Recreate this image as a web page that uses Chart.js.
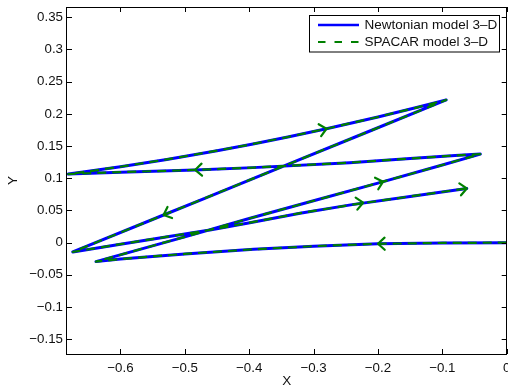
<!DOCTYPE html>
<html><head><meta charset="utf-8">
<script src="https://cdn.jsdelivr.net/npm/chart.js@4"></script>
<style>html,body{margin:0;padding:0;background:#fff;}canvas{display:block;}</style>
</head><body>
<canvas id="c" width="508" height="389"></canvas>
<script>
// ---- data ----
const newtonianX = [0.000,-0.100,-0.200,-0.300,-0.393,-0.500,-0.600,-0.638,
  -0.500,-0.400,-0.300,-0.200,-0.100,-0.041,
  -0.080,-0.150,-0.244,-0.394,-0.484,-0.600,-0.658,-0.681,
  -0.658,-0.600,-0.528,-0.450,-0.394,-0.340,-0.280,-0.200,-0.140,-0.094,
  -0.223,-0.339,-0.471,-0.533,-0.674,
  -0.600,-0.461,-0.399,-0.321,-0.240,-0.150,-0.062];
const newtonianY = [0.0000,-0.0005,-0.0018,-0.0055,-0.0103,-0.0175,-0.0255,-0.0295,
  0.0090,0.0375,0.0650,0.0925,0.1205,0.1375,
  0.1354,0.1306,0.1242,0.1165,0.1129,0.1095,0.1075,0.1065,
  0.1096,0.1179,0.1292,0.1428,0.1533,0.1641,0.1769,0.1952,0.2098,0.2216,
  0.1691,0.1219,0.0681,0.0429,-0.0145,
  -0.0024,0.0197,0.0310,0.0457,0.0590,0.0718,0.0842];
const spacarX = newtonianX.slice();
const spacarY = newtonianY.slice();
const arrowX = [-0.200,-0.192,-0.484,-0.280,-0.533,-0.223,-0.062];
const arrowY = [-0.0018,0.0947,0.1129,0.1769,0.0429,0.0620,0.0842];
const seriesNames = ['Newtonian model 3\u2013D','SPACAR model 3\u2013D'];
const xTicks = [-0.6,-0.5,-0.4,-0.3,-0.2,-0.1,0];
const xTickLabels = ['\u22120.6','\u22120.5','\u22120.4','\u22120.3','\u22120.2','\u22120.1','0'];
const yTicks = [-0.15,-0.1,-0.05,0,0.05,0.1,0.15,0.2,0.25,0.3,0.35];
const yTickLabels = ['\u22120.15','\u22120.1','\u22120.05','0','0.05','0.1','0.15','0.2','0.25','0.3','0.35'];
const xRange = [-0.683, 0];
const yRange = [-0.173, 0.366];
const axisTitles = ['X','Y'];

const FONT = '"Liberation Sans", Arial, Helvetica, sans-serif';
const BLUE = '#0000ff', GREEN = '#008000';

const toPts = (xs, ys) => xs.map((x, i) => ({x, y: ys[i]}));

const overlay = {
  id: 'overlay',
  afterDatasetsDraw(chart) {
    const ctx = chart.ctx, sx = chart.scales.x, sy = chart.scales.y;
    const pts = spacarX.map((x, i) => ({x: sx.getPixelForValue(x), y: sy.getPixelForValue(spacarY[i])}));
    ctx.save();
    ctx.strokeStyle = GREEN; ctx.lineWidth = 2.2; ctx.lineCap = 'round'; ctx.lineJoin = 'round';
    arrowX.forEach((ax, k) => {
      const px = sx.getPixelForValue(ax), py = sy.getPixelForValue(arrowY[k]);
      let best = Infinity, dx = 1, dy = 0;
      for (let i = 0; i < pts.length - 1; i++) {
        const a = pts[i], b = pts[i + 1];
        const vx = b.x - a.x, vy = b.y - a.y, L2 = vx * vx + vy * vy || 1;
        let t = ((px - a.x) * vx + (py - a.y) * vy) / L2; t = Math.max(0, Math.min(1, t));
        const qx = a.x + t * vx - px, qy = a.y + t * vy - py, d = qx * qx + qy * qy;
        if (d < best) { best = d; dx = vx; dy = vy; }
      }
      const ang = Math.atan2(dy, dx), L = 9, h = 42 * Math.PI / 180;
      ctx.beginPath();
      ctx.moveTo(px - L * Math.cos(ang - h), py - L * Math.sin(ang - h));
      ctx.lineTo(px, py);
      ctx.lineTo(px - L * Math.cos(ang + h), py - L * Math.sin(ang + h));
      ctx.stroke();
    });
    ctx.restore();
  },
  afterDraw(chart) {
    const ctx = chart.ctx, a = chart.chartArea, sx = chart.scales.x, sy = chart.scales.y;
    ctx.save();
    ctx.strokeStyle = '#000'; ctx.lineWidth = 1;
    ctx.strokeRect(Math.round(a.left) - 0.5, Math.round(a.top) + 0.5, Math.round(a.right) - Math.round(a.left), Math.round(a.bottom) - Math.round(a.top));
    const tl = 5;
    ctx.beginPath();
    xTicks.forEach(v => {
      const x = Math.round(sx.getPixelForValue(v)) + 0.5;
      ctx.moveTo(x, a.bottom); ctx.lineTo(x, a.bottom - tl);
      ctx.moveTo(x, a.top); ctx.lineTo(x, a.top + tl);
    });
    yTicks.forEach(v => {
      const y = Math.round(sy.getPixelForValue(v)) + 0.5;
      ctx.moveTo(a.left, y); ctx.lineTo(a.left + tl, y);
      ctx.moveTo(a.right, y); ctx.lineTo(a.right - tl, y);
    });
    ctx.stroke();
    ctx.fillStyle = '#111';
    ctx.font = '13.5px ' + FONT;
    ctx.textAlign = 'center'; ctx.textBaseline = 'middle';
    ctx.fillText(axisTitles[0], (a.left + a.right) / 2, 381.5);
    ctx.save();
    ctx.translate(13.5, (a.top + a.bottom) / 2);
    ctx.rotate(-Math.PI / 2);
    ctx.fillText(axisTitles[1], 0, 0);
    ctx.restore();
    const bx = 309.5, by = 15.5, bw = 190, bh = 36.5;
    ctx.fillStyle = '#fff'; ctx.fillRect(bx, by, bw, bh);
    ctx.strokeStyle = '#000'; ctx.lineWidth = 1; ctx.strokeRect(bx, by, bw, bh);
    const rows = [25, 42];
    ctx.lineCap = 'butt';
    ctx.strokeStyle = BLUE; ctx.lineWidth = 2.5;
    ctx.beginPath(); ctx.moveTo(318, rows[0]); ctx.lineTo(359, rows[0]); ctx.stroke();
    ctx.strokeStyle = GREEN; ctx.lineWidth = 2.2; ctx.setLineDash([7.5, 9]);
    ctx.beginPath(); ctx.moveTo(318, rows[1]); ctx.lineTo(359, rows[1]); ctx.stroke();
    ctx.setLineDash([]);
    ctx.fillStyle = '#111'; ctx.textAlign = 'left'; ctx.textBaseline = 'middle';
    ctx.font = '13.5px ' + FONT;
    ctx.fillText(seriesNames[0], 364.5, rows[0] + 0.5);
    ctx.fillText(seriesNames[1], 364.5, rows[1] + 0.5);
    ctx.restore();
  }
};

new Chart(document.getElementById('c'), {
  type: 'scatter',
  data: {
    datasets: [
      { label: seriesNames[0], data: toPts(newtonianX, newtonianY), showLine: true, order: 2,
        borderColor: BLUE, borderWidth: 3, pointRadius: 0, borderJoinStyle: 'round', borderCapStyle: 'round', tension: 0 },
      { label: seriesNames[1], data: toPts(spacarX, spacarY), showLine: true, order: 1,
        borderColor: GREEN, borderWidth: 2.2, borderDash: [9, 6], pointRadius: 0, borderJoinStyle: 'round', tension: 0 }
    ]
  },
  options: {
    responsive: false, animation: false, devicePixelRatio: 1,
    layout: { padding: { top: 7, right: 1.3, left: 0, bottom: 0 } },
    plugins: { legend: { display: false }, tooltip: { enabled: false } },
    scales: {
      x: {
        type: 'linear', min: xRange[0], max: xRange[1],
        grid: { display: false, drawTicks: false }, border: { display: false },
        afterBuildTicks: s => { s.ticks = xTicks.map(v => ({value: v})); },
        afterFit: s => { s.height = 35; s.paddingLeft = 0; s.paddingRight = 0; },
        ticks: { autoSkip: false, maxRotation: 0, padding: 6, color: '#111',
          font: { family: FONT, size: 13.3 }, callback: (v, i) => xTickLabels[i] }
      },
      y: {
        type: 'linear', min: yRange[0], max: yRange[1],
        grid: { display: false, drawTicks: false }, border: { display: false },
        afterBuildTicks: s => { s.ticks = yTicks.map(v => ({value: v})); },
        afterFit: s => { s.width = 67; s.paddingTop = 0; s.paddingBottom = 0; },
        ticks: { autoSkip: false, padding: 4, color: '#111',
          font: { family: FONT, size: 13.3 }, callback: (v, i) => yTickLabels[i] }
      }
    }
  },
  plugins: [overlay]
});
</script>
</body></html>
